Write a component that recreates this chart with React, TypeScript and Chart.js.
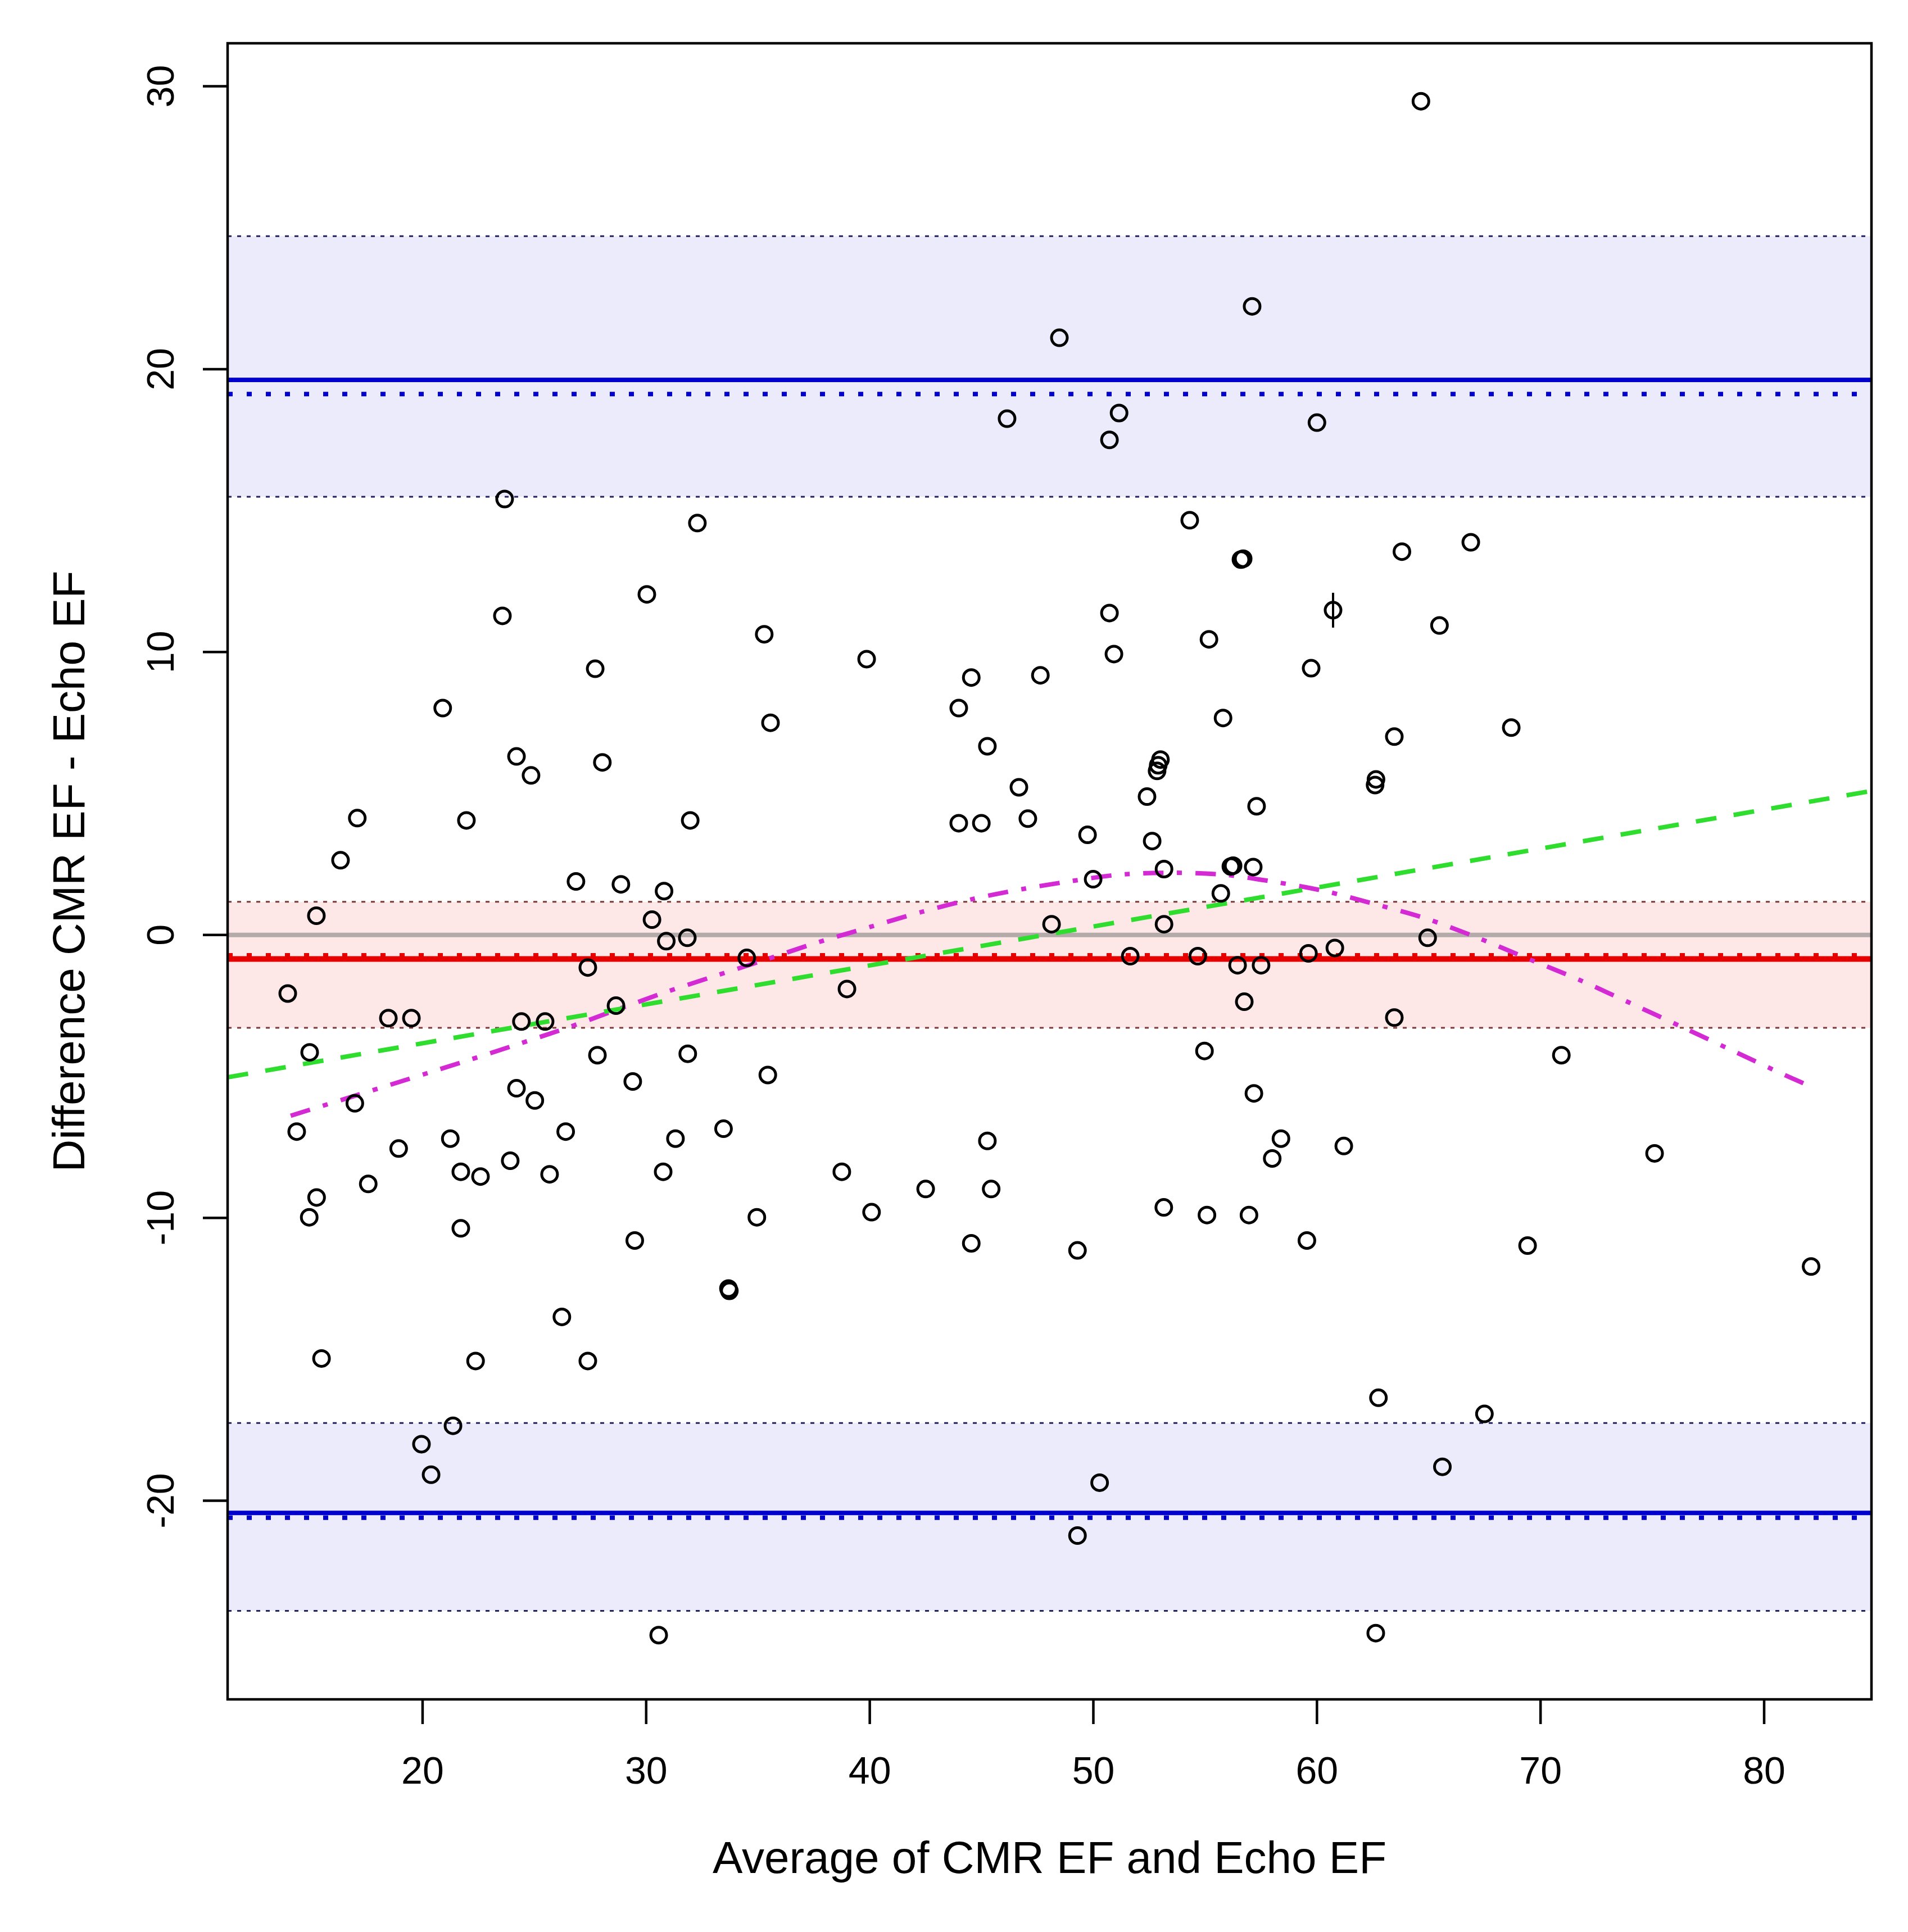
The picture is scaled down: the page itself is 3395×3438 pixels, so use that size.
import React, { useEffect, useRef } from "react";
import { Chart, registerables } from "chart.js";

Chart.register(...registerables);

// ---------- data ----------
const xTicks = [20, 30, 40, 50, 60, 70, 80];
const yTicks = [-20, -10, 0, 10, 20, 30];
const xAxisRange = [11.28, 84.8];
const yAxisRange = [-27.02, 31.52];

const avgEF = [
  64.65, 57.1, 48.48, 46.14, 51.15, 50.72, 60.0, 23.67, 32.29, 54.31,
  66.88, 63.8, 56.6, 56.7, 23.57, 30.03, 35.28, 50.72, 60.72, 65.48,
  55.17, 50.92, 39.86, 27.72, 59.74, 44.54, 47.63, 20.9, 43.98, 35.56,
  55.8, 63.46, 68.69, 24.2, 24.85, 28.04, 45.26, 53.0, 52.9, 52.85,
  46.67, 62.64, 62.6, 52.4, 17.08, 21.96, 31.97, 43.98, 44.99, 47.07,
  57.3, 49.74, 52.63, 16.33, 56.15, 56.25, 57.15, 53.16, 26.86, 28.87,
  49.99, 30.8, 55.7, 15.25, 30.26, 48.13, 53.16, 31.84, 30.9, 64.95,
  60.8, 59.62, 51.65, 54.67, 34.5, 27.39, 56.45, 57.5, 13.97, 38.98,
  28.65, 56.75, 18.47, 19.5, 24.42, 25.48, 63.46, 14.95, 27.82, 31.86,
  54.97, 70.93, 35.44, 29.4, 24.2, 25.02, 16.97, 57.18, 14.37, 26.4,
  33.46, 21.24, 31.31, 45.26, 58.39, 61.2, 18.93, 75.1, 58.0, 23.92,
  21.71, 22.59, 25.68, 30.76, 38.75, 17.57, 42.5, 45.43, 15.26, 53.15,
  14.93, 34.95, 40.08, 55.08, 56.96, 21.71, 29.49, 44.54, 59.55, 69.42,
  49.29, 82.1, 33.68, 33.72, 26.23, 15.48, 22.37, 27.39, 62.75, 67.49,
  21.36, 19.95, 20.38, 65.61, 50.28, 49.29, 30.56, 62.63,
];
const diffEF = [
  29.47, 22.22, 21.11, 18.25, 18.45, 17.5, 18.11, 15.41, 14.56, 14.66,
  13.88, 13.55, 13.27, 13.3, 11.28, 12.04, 10.63, 11.38, 11.48, 10.94,
  10.45, 9.93, 9.75, 9.41, 9.43, 9.1, 9.18, 8.02, 8.02, 7.5,
  7.67, 7.01, 7.33, 6.31, 5.64, 6.1, 6.67, 6.2, 6.0, 5.8,
  5.22, 5.5, 5.3, 4.89, 4.13, 4.05, 4.05, 3.95, 3.95, 4.11,
  4.55, 3.54, 3.32, 2.64, 2.42, 2.45, 2.4, 2.33, 1.89, 1.79,
  1.97, 1.55, 1.47, 0.68, 0.54, 0.38, 0.38, -0.1, -0.22, -0.1,
  -0.46, -0.65, -0.75, -0.75, -0.81, -1.15, -1.07, -1.07, -2.07, -1.91,
  -2.5, -2.36, -2.94, -2.94, -3.06, -3.06, -2.92, -4.15, -4.25, -4.2,
  -4.1, -4.25, -4.95, -5.18, -5.42, -5.85, -5.95, -5.6, -6.95, -6.95,
  -6.85, -7.2, -7.2, -7.28, -7.2, -7.46, -7.55, -7.72, -7.9, -7.98,
  -8.37, -8.54, -8.46, -8.37, -8.37, -8.8, -8.98, -8.98, -9.28, -9.63,
  -9.98, -9.98, -9.8, -9.9, -9.9, -10.37, -10.8, -10.9, -10.8, -10.98,
  -11.15, -11.72, -12.5, -12.58, -13.5, -14.97, -15.06, -15.06, -16.36, -16.93,
  -17.35, -18.0, -19.08, -18.8, -19.36, -21.23, -24.75, -24.68,
];
// the one point with a vertical bar through it
const barMarkX = [60.72];
const barMarkY = [11.48];

// shaded confidence bands [bottom, top]
const upperBand = [15.49, 24.7];
const meanBand = [-3.28, 1.17];
const lowerBand = [-23.89, -17.25];
// limit / mean lines
const loaSolid = [19.62, -20.43];
const loaDotted = [19.12, -20.6];
const meanSolid = -0.85;
const meanDotted = -0.72;
const zeroLine = 0;

// linear trend (green dashed)
const trendX = [11.28, 84.8];
const trendY = [-5.03, 5.09];

// smooth curve (magenta dot-dash)
const curveX = [
  14.1, 17.56, 21.8, 24.0, 26.4, 28.7, 30.8, 33.0, 35.2, 37.6, 40.0, 42.3,
  44.6, 46.75, 48.9, 51.15, 53.55, 55.85, 58.0, 60.3, 62.5, 64.8, 67.0, 69.6,
  71.8, 74.1, 76.4, 78.75, 81.0, 82.1,
];
const curveY = [
  -6.39, -5.54, -4.49, -3.93, -3.3, -2.64, -2.04, -1.47, -0.91, -0.28, 0.28,
  0.81, 1.27, 1.61, 1.89, 2.13, 2.2, 2.13, 1.89, 1.56, 1.11, 0.6, -0.04, -0.89,
  -1.61, -2.44, -3.28, -4.15, -4.98, -5.36,
];

const xTitle = "Average of CMR EF and Echo EF";
const yTitle = "Difference CMR EF - Echo EF";

// ---------- helpers ----------
const hline = (v: number) => [
  { x: xAxisRange[0], y: v },
  { x: xAxisRange[1], y: v },
];
const FONT = '"Liberation Sans", Arial, sans-serif';

const lineDs = (v: number, color: string, width: number, dash: number[], extra: any = {}) => ({
  type: "line",
  data: hline(v),
  borderColor: color,
  borderWidth: width,
  borderDash: dash,
  pointRadius: 0,
  fill: false,
  ...extra,
});

const rAxesPlugin = {
  id: "rAxes",
  afterDraw(chart: any) {
    const { ctx, chartArea: a, scales } = chart;
    const x = scales.x;
    const y = scales.y;
    ctx.save();
    ctx.strokeStyle = "#000";
    ctx.fillStyle = "#000";
    ctx.lineWidth = 4.5;
    ctx.setLineDash([]);
    ctx.strokeRect(a.left, a.top, a.right - a.left, a.bottom - a.top);

    ctx.font = `68px ${FONT}`;
    // x ticks
    xTicks.forEach((v) => {
      const px = x.getPixelForValue(v);
      ctx.beginPath();
      ctx.moveTo(px, a.bottom);
      ctx.lineTo(px, a.bottom + 44);
      ctx.stroke();
      ctx.textAlign = "center";
      ctx.textBaseline = "alphabetic";
      ctx.fillText(String(v), px, a.bottom + 150);
    });
    // y ticks (labels parallel to axis)
    yTicks.forEach((v) => {
      const py = y.getPixelForValue(v);
      ctx.beginPath();
      ctx.moveTo(a.left, py);
      ctx.lineTo(a.left - 44, py);
      ctx.stroke();
      ctx.save();
      ctx.translate(a.left - 96, py);
      ctx.rotate(-Math.PI / 2);
      ctx.textAlign = "center";
      ctx.textBaseline = "alphabetic";
      ctx.fillText(String(v), 0, 0);
      ctx.restore();
    });
    // titles
    ctx.font = `80px ${FONT}`;
    ctx.textAlign = "center";
    ctx.textBaseline = "alphabetic";
    ctx.fillText(xTitle, (a.left + a.right) / 2, a.bottom + 309);
    ctx.save();
    ctx.translate(a.left - 255, (a.top + a.bottom) / 2);
    ctx.rotate(-Math.PI / 2);
    ctx.fillText(yTitle, 0, 0);
    ctx.restore();
    ctx.restore();
  },
};

export default function App() {
  const ref = useRef<HTMLCanvasElement | null>(null);

  useEffect(() => {
    if (!ref.current) return;
    const lavender = "#ECEBFC";
    const pink = "#FDE7E7";
    const navy = "#22225E";
    const darkRed = "#7E3A3A";
    const blue = "#0000CC";
    const red = "#E60000";

    const datasets: any[] = [
      // bands (fill between top and bottom)
      lineDs(upperBand[1], navy, 3, [7, 10], { fill: "+1", backgroundColor: lavender, order: 50 }),
      lineDs(upperBand[0], navy, 3, [7, 10], { order: 49 }),
      lineDs(meanBand[1], darkRed, 3, [7, 10], { fill: "+1", backgroundColor: pink, order: 50 }),
      lineDs(meanBand[0], darkRed, 3, [7, 10], { order: 49 }),
      lineDs(lowerBand[1], navy, 3, [7, 10], { fill: "+1", backgroundColor: lavender, order: 50 }),
      lineDs(lowerBand[0], navy, 3, [7, 10], { order: 49 }),
      // zero line
      lineDs(zeroLine, "#B3AAAA", 8, [], { order: 40 }),
      // limits of agreement
      lineDs(loaSolid[0], blue, 8, [], { order: 30 }),
      lineDs(loaDotted[0], blue, 8, [9, 25], { order: 30 }),
      lineDs(loaSolid[1], blue, 8, [], { order: 30 }),
      lineDs(loaDotted[1], blue, 8, [9, 25], { order: 30 }),
      // mean
      lineDs(meanSolid, red, 10, [], { order: 30 }),
      lineDs(meanDotted, red, 8, [9, 25], { order: 29 }),
      // trend
      {
        type: "line",
        data: trendX.map((v, i) => ({ x: v, y: trendY[i] })),
        borderColor: "#2EDD2E",
        borderWidth: 8,
        borderDash: [37, 31],
        pointRadius: 0,
        fill: false,
        order: 20,
      },
      {
        type: "line",
        data: curveX.map((v, i) => ({ x: v, y: curveY[i] })),
        borderColor: "#D42AD4",
        borderWidth: 8,
        borderDash: [36, 24, 9, 24],
        pointRadius: 0,
        tension: 0.3,
        fill: false,
        order: 20,
      },
      // points
      {
        type: "line",
        showLine: false,
        data: avgEF.map((v, i) => ({ x: v, y: diffEF[i] })),
        pointStyle: "circle",
        pointRadius: 14,
        pointBorderWidth: 5,
        pointBorderColor: "#000",
        pointBackgroundColor: "rgba(0,0,0,0)",
        order: 0,
      },
      {
        type: "line",
        showLine: false,
        data: barMarkX.map((v, i) => ({ x: v, y: barMarkY[i] })),
        pointStyle: "line",
        pointRotation: 90,
        pointRadius: 31,
        pointBorderWidth: 4,
        pointBorderColor: "#000",
        order: 0,
      },
    ];

    const chart = new Chart(ref.current, {
      type: "line",
      data: { datasets },
      options: {
        animation: false,
        responsive: false,
        devicePixelRatio: 1,
        layout: { padding: { top: 77, right: 65, left: 0, bottom: 0 } },
        plugins: {
          legend: { display: false },
          tooltip: { enabled: false },
          filler: { drawTime: "beforeDatasetsDraw" },
        },
        scales: {
          x: {
            type: "linear",
            min: xAxisRange[0],
            max: xAxisRange[1],
            ticks: { display: false },
            grid: { display: false },
            border: { display: false },
            afterFit: (s: any) => {
              s.height = 414;
            },
          },
          y: {
            type: "linear",
            min: yAxisRange[0],
            max: yAxisRange[1],
            ticks: { display: false },
            grid: { display: false },
            border: { display: false },
            afterFit: (s: any) => {
              s.width = 405;
            },
          },
        },
      } as any,
      plugins: [rAxesPlugin],
    } as any);

    return () => chart.destroy();
  }, []);

  return (
    <div style={{ position: "absolute", left: 0, top: 0, width: 3395, height: 3438, background: "#fff" }}>
      <canvas ref={ref} width={3395} height={3438} style={{ width: 3395, height: 3438 }} />
    </div>
  );
}
